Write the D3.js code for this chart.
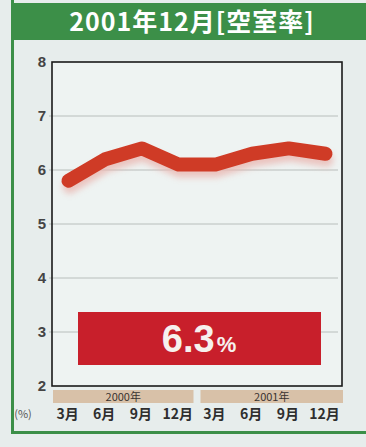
<!DOCTYPE html>
<html>
<head>
<meta charset="utf-8">
<script src="https://cdn.jsdelivr.net/npm/d3@7"></script>
<style>
  body { margin: 0; background: #e7edec; }
  svg { display: block; font-family: "Noto Sans CJK JP", "Noto Sans", sans-serif; }
</style>
</head>
<body>
<div id="chart"></div>
<script>
// Data
const months = ['3月', '6月', '9月', '12月', '3月', '6月', '9月', '12月'];
const years = ['2000年', '2001年'];
const vacancy = [5.8, 6.2, 6.4, 6.1, 6.1, 6.3, 6.4, 6.3];
const yTicks = [2, 3, 4, 5, 6, 7, 8];
const title = '2001年12月[空室率]';
const latest = '6.3';

const width = 366;
const height = 447;
const plot = { left: 52, right: 342, top: 62, bottom: 386 };

const svg = d3.select('#chart')
    .append('svg')
    .attr('width', width)
    .attr('height', height);

// Page background and frame lines
svg.append('rect').attr('width', width).attr('height', height).attr('fill', '#e7edec');
svg.append('rect').attr('x', 14).attr('y', 3).attr('width', width - 14).attr('height', 37).attr('fill', '#3c8f48');
svg.append('rect').attr('x', 11).attr('y', 0).attr('width', 3).attr('height', 434).attr('fill', '#3c8f48');
svg.append('rect').attr('x', 11).attr('y', 431).attr('width', width - 11).attr('height', 3).attr('fill', '#3c8f48');

svg.append('text')
    .attr('x', 192)
    .attr('y', 31)
    .attr('text-anchor', 'middle')
    .attr('fill', '#ffffff')
    .style('font-size', '25px')
    .style('font-weight', 'bold')
    .style('letter-spacing', '1px')
    .text(title);

// Scales
const x = d3.scalePoint()
    .domain(d3.range(months.length))
    .range([plot.left, plot.right])
    .padding(0.45);

const y = d3.scaleLinear()
    .domain([2, 8])
    .range([plot.bottom, plot.top]);

// Plot background
svg.append('rect')
    .attr('x', plot.left).attr('y', plot.top)
    .attr('width', plot.right - plot.left).attr('height', plot.bottom - plot.top)
    .attr('fill', '#eef3f2');

// Gridlines
svg.append('g')
    .selectAll('line')
    .data(yTicks.slice(1, -1))
    .join('line')
    .attr('x1', plot.left - 3)
    .attr('x2', plot.right - 4)
    .attr('y1', d => y(d))
    .attr('y2', d => y(d))
    .attr('stroke', '#a9b0ae')
    .attr('stroke-width', 0.8);

// Y axis labels
const yAxis = svg.append('g')
    .attr('transform', `translate(${plot.left},0)`)
    .call(d3.axisLeft(y).tickValues(yTicks).tickFormat(d3.format('d')).tickSize(0).tickPadding(6));
yAxis.select('.domain').remove();
yAxis.selectAll('text')
    .attr('fill', '#444')
    .style('font-size', '15px')
    .style('font-family', '"Liberation Sans", Arial, sans-serif')
    .style('font-weight', 'bold');

// Frame
svg.append('rect')
    .attr('x', plot.left).attr('y', plot.top)
    .attr('width', plot.right - plot.left).attr('height', plot.bottom - plot.top)
    .attr('fill', 'none')
    .attr('stroke', '#1a1a1a')
    .attr('stroke-width', 1.6);

// Line with soft shadow
const defs = svg.append('defs');
const blur = defs.append('filter').attr('id', 'soft').attr('x', '-10%').attr('y', '-50%').attr('width', '120%').attr('height', '200%');
blur.append('feGaussianBlur').attr('stdDeviation', 3);

const line = d3.line()
    .x((d, i) => x(i))
    .y(d => y(d));

svg.append('path')
    .datum(vacancy)
    .attr('d', line)
    .attr('transform', 'translate(1,6)')
    .attr('fill', 'none')
    .attr('stroke', '#eab8b2')
    .attr('stroke-width', 14)
    .attr('stroke-linecap', 'round')
    .attr('stroke-linejoin', 'round')
    .attr('filter', 'url(#soft)')
    .attr('opacity', 0.8);

svg.append('path')
    .datum(vacancy)
    .attr('d', line)
    .attr('fill', 'none')
    .attr('stroke', '#cf3b26')
    .attr('stroke-width', 14)
    .attr('stroke-linecap', 'round')
    .attr('stroke-linejoin', 'round');

// Latest value box
svg.append('rect')
    .attr('x', 78).attr('y', 312)
    .attr('width', 243).attr('height', 53)
    .attr('fill', '#c81f2b');

const valueText = svg.append('text')
    .attr('x', 199)
    .attr('y', 352)
    .attr('text-anchor', 'middle')
    .attr('fill', '#f6f1ee')
    .style('font-family', '"Liberation Sans", Arial, sans-serif')
    .style('font-weight', 'bold');
valueText.append('tspan').style('font-size', '38px').text(latest);
valueText.append('tspan').style('font-size', '22px').attr('dx', 2).text('%');

// Year bars
const yearSpans = years.map((label, i) => {
    const first = i * 4;
    const last = first + 3;
    const x0 = i === 0 ? plot.left + 1 : (x(last - 4) + x(first)) / 2 + 3.5;
    const x1 = i === years.length - 1 ? plot.right + 1 : (x(last) + x(last + 1)) / 2 - 3.5;
    return { label, x0, x1 };
});

svg.append('g')
    .selectAll('rect')
    .data(yearSpans)
    .join('rect')
    .attr('x', d => d.x0)
    .attr('y', 390)
    .attr('width', d => d.x1 - d.x0)
    .attr('height', 13)
    .attr('fill', '#d8c1a8');

svg.append('g')
    .selectAll('text')
    .data(yearSpans)
    .join('text')
    .attr('x', d => (d.x0 + d.x1) / 2)
    .attr('y', 401)
    .attr('text-anchor', 'middle')
    .attr('fill', '#3a3330')
    .style('font-size', '11px')
    .text(d => d.label);

// Month labels
svg.append('g')
    .selectAll('text')
    .data(months)
    .join('text')
    .attr('x', (d, i) => x(i) - 1)
    .attr('y', 419)
    .attr('text-anchor', 'middle')
    .attr('fill', '#2e2e2e')
    .style('font-size', '14px')
    .style('font-weight', 'bold')
    .text(d => d);

svg.append('text')
    .attr('x', 23)
    .attr('y', 418)
    .attr('text-anchor', 'middle')
    .attr('fill', '#555')
    .style('font-size', '11px')
    .text('(%)');
</script>
</body>
</html>
